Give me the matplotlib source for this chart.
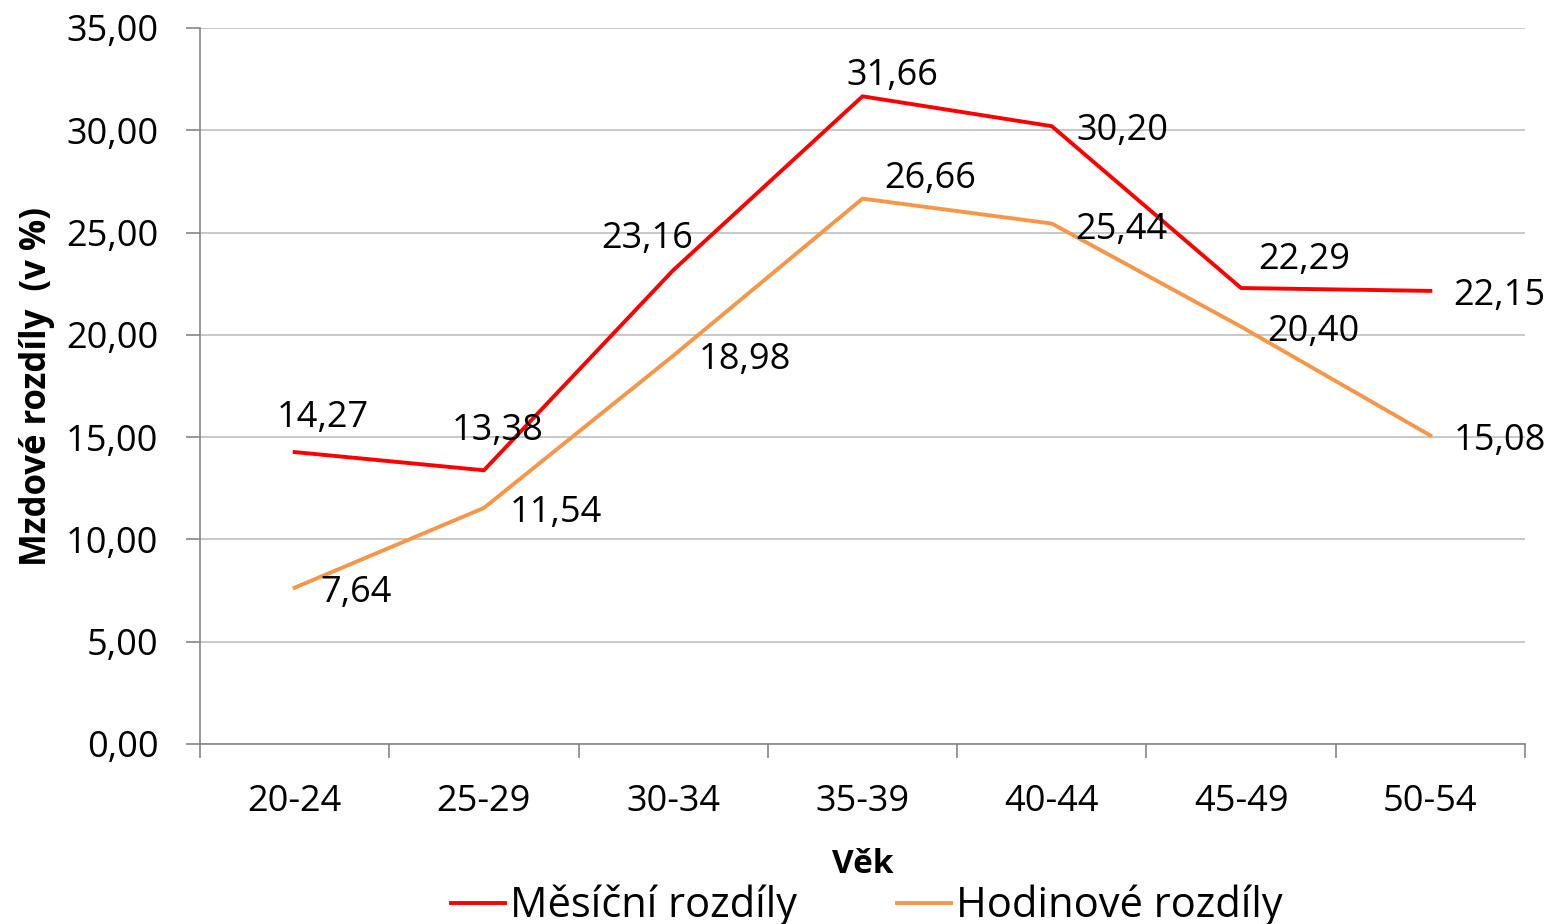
import matplotlib
matplotlib.use("Agg")
import matplotlib.pyplot as plt
import numpy as np

# --- Data ---
age_groups = ["20-24", "25-29", "30-34", "35-39", "40-44", "45-49", "50-54"]
monthly_gap = [14.27, 13.38, 23.16, 31.66, 30.20, 22.29, 22.15]
hourly_gap = [7.64, 11.54, 18.98, 26.66, 25.44, 20.40, 15.08]

# label offsets in pixels (dx, dy)
monthly_offsets = [(28, 34), (14, 39), (-26, 31), (30, 20), (71, -5), (63, 28), (69, -5)]
hourly_offsets = [(61, -5), (72, -5), (72, -4), (68, 20), (70, -6), (72, -5), (70, -5)]

plt.rcParams['font.family'] = ['Open Sans', 'DejaVu Sans']
FS = 26

fig = plt.figure(figsize=(15.54, 9.24), dpi=100)
ax = fig.add_axes([200 / 1554, 1 - 744 / 924, 1325 / 1554, 716 / 924])

x = np.arange(len(age_groups))
red = "#FF0000"
orange = "#F79646"
ax.plot(x, monthly_gap, color=red, lw=2.8, label="Měsíční rozdíly", zorder=3)
ax.plot(x, hourly_gap, color=orange, lw=2.8, label="Hodinové rozdíly", zorder=3)

def fmt(v):
    return f"{v:.2f}".replace(".", ",")

for xi, v, (dx, dy) in zip(x, monthly_gap, monthly_offsets):
    ax.annotate(fmt(v), (xi, v), xytext=(dx, dy), textcoords="offset pixels",
                ha="center", va="center", fontsize=FS, zorder=4)
for xi, v, (dx, dy) in zip(x, hourly_gap, hourly_offsets):
    ax.annotate(fmt(v), (xi, v), xytext=(dx, dy), textcoords="offset pixels",
                ha="center", va="center", fontsize=FS, zorder=4)

# --- Axes styling ---
ax.set_xlim(-0.5, len(age_groups) - 0.5)
ax.set_ylim(0, 35)
ax.set_yticks(np.arange(0, 35.1, 5))
ax.set_yticklabels([fmt(v) for v in np.arange(0, 35.1, 5)], fontsize=FS)
ax.set_xticks(x)
ax.set_xticklabels(age_groups, fontsize=FS)
ax.set_xticks(np.arange(-0.5, len(age_groups)), minor=True)
ax.tick_params(axis="x", which="major", length=0, pad=29)
ax.tick_params(axis="x", which="minor", length=10, color="#868686", width=1.2)
ax.tick_params(axis="y", length=10, color="#868686", width=1.2, pad=20)

ax.grid(axis="y", color="#BFBFBF", lw=1.2)
ax.set_axisbelow(True)
for s in ["top", "right"]:
    ax.spines[s].set_visible(False)
for s in ["left", "bottom"]:
    ax.spines[s].set_color("#868686")
    ax.spines[s].set_linewidth(1.2)

ax.set_xlabel("Věk", fontsize=24, fontweight="bold", labelpad=20)
ax.set_ylabel("Mzdové rozdíly  (v %)", fontsize=25, fontweight="bold", labelpad=8)

fig.legend(loc="center", bbox_to_anchor=(867 / 1554, 1 - 906 / 924), ncol=2,
           frameon=False, fontsize=30, handlelength=1.3, handletextpad=0.12,
           columnspacing=2.4)

fig.savefig("out.png", dpi=100)
